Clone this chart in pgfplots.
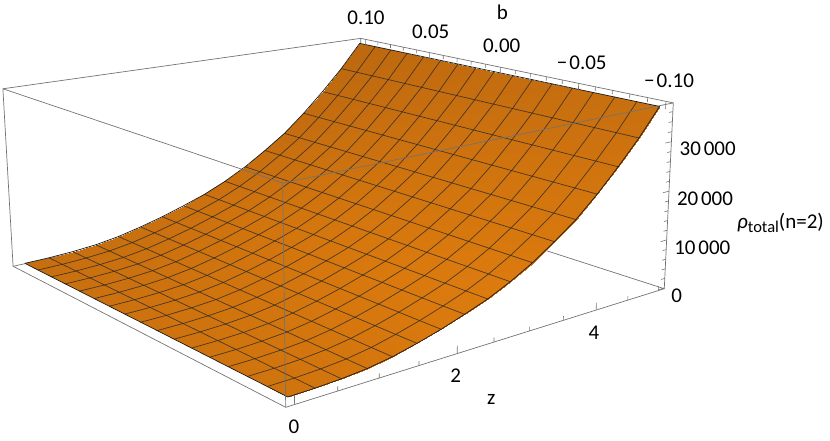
\documentclass[border=0pt]{standalone}
\usepackage{pgfplots}
\pgfplotsset{compat=1.18}
\usepackage{pgfplotstable}
\usepackage{fontspec}
\setmainfont{Carlito}

% surface: rho against z and b, m is the shade of the patch
\pgfplotstableread{
z b rho m
0 -0.10 560 .60
0 -0.05 560 .58
0 0.00 560 .52
0 0.05 560 .44
0 0.10 560 .32
0.3125 -0.10 628 .65
0.3125 -0.05 628 .62
0.3125 0.00 628 .55
0.3125 0.05 628 .46
0.3125 0.10 628 .33
0.625 -0.10 855 .70
0.625 -0.05 855 .66
0.625 0.00 855 .58
0.625 0.05 855 .48
0.625 0.10 855 .35
0.9375 -0.10 1272 .75
0.9375 -0.05 1272 .70
0.9375 0.00 1272 .62
0.9375 0.05 1272 .50
0.9375 0.10 1272 .36
1.25 -0.10 2030 .80
1.25 -0.05 2030 .75
1.25 0.00 2030 .66
1.25 0.05 2030 .54
1.25 0.10 2030 .38
1.5625 -0.10 3129 .85
1.5625 -0.05 3129 .80
1.5625 0.00 3129 .70
1.5625 0.05 3129 .57
1.5625 0.10 3129 .40
1.875 -0.10 4417 .90
1.875 -0.05 4417 .84
1.875 0.00 4417 .74
1.875 0.05 4417 .60
1.875 0.10 4417 .42
2.1875 -0.10 5933 .95
2.1875 -0.05 5933 .88
2.1875 0.00 5933 .78
2.1875 0.05 5933 .63
2.1875 0.10 5933 .44
2.5 -0.10 7582 1.0
2.5 -0.05 7582 .92
2.5 0.00 7582 .80
2.5 0.05 7582 .65
2.5 0.10 7582 .45
2.8125 -0.10 9666 .98
2.8125 -0.05 9666 .90
2.8125 0.00 9666 .78
2.8125 0.05 9666 .62
2.8125 0.10 9666 .42
3.125 -0.10 12148 .92
3.125 -0.05 12148 .85
3.125 0.00 12148 .73
3.125 0.05 12148 .58
3.125 0.10 12148 .38
3.4375 -0.10 15104 .85
3.4375 -0.05 15104 .78
3.4375 0.00 15104 .67
3.4375 0.05 15104 .52
3.4375 0.10 15104 .33
3.75 -0.10 18325 .78
3.75 -0.05 18325 .70
3.75 0.00 18325 .60
3.75 0.05 18325 .46
3.75 0.10 18325 .28
4.0625 -0.10 22304 .70
4.0625 -0.05 22304 .62
4.0625 0.00 22304 .52
4.0625 0.05 22304 .40
4.0625 0.10 22304 .22
4.375 -0.10 26738 .60
4.375 -0.05 26738 .52
4.375 0.00 26738 .44
4.375 0.05 26738 .32
4.375 0.10 26738 .15
4.6875 -0.10 31536 .50
4.6875 -0.05 31536 .42
4.6875 0.00 31536 .34
4.6875 0.05 31536 .24
4.6875 0.10 31536 .08
5 -0.10 36970 .40
5 -0.05 36970 .32
5 0.00 36970 .24
5 0.05 36970 .14
5 0.10 36970 .02
}\surfdata

\pgfplotstableread{
z rho
0 560
0.3125 628
0.625 855
0.9375 1272
1.25 2030
1.5625 3129
1.875 4417
2.1875 5933
2.5 7582
2.8125 9666
3.125 12148
3.4375 15104
3.75 18325
4.0625 22304
4.375 26738
4.6875 31536
5 36970
}\profile

\pgfplotstableread{
b c
-0.10 0
0.10 0
}\bends

\newcommand{\at}[3]{axis cs:{px(#1,#2,#3)},{py(#1,#2,#3)}}

\begin{document}
\begin{tikzpicture}[
  declare function={
    U(\z)=(\z+0.1)/5.2;
    V(\b)=(\b+0.104)/0.208;
    W(\r)=(\r+168)/37896;
    den(\z,\b,\r)=1+0.2227*U(\z)+0.283*V(\b)-0.036*W(\r);
    px(\z,\b,\r)=(285.7+526.5*U(\z)-268.9*V(\b)-13.2*W(\r))/den(\z,\b,\r);
    py(\z,\b,\r)=(407.3-54.3*U(\z)-65.7*V(\b)-230.9*W(\r))/den(\z,\b,\r);
  },
  boxline/.style={draw=black!55,line width=0.7pt},
  tickline/.style={draw=black!55,line width=0.6pt},
  meshline/.style={draw=black!85,draw opacity=0.78,line width=0.7pt},
  edgeline/.style={draw=black!90,line width=0.7pt},
  lab/.style={font=\fontsize{21}{21}\selectfont,text=black,inner sep=0pt,anchor=center},
]
\begin{axis}[
  scale only axis, width=830pt, height=441pt,
  xmin=0, xmax=830, ymin=0, ymax=441, y dir=reverse,
  hide axis, clip=false,
  point meta min=0, point meta max=1,
  colormap={copper}{rgb255(0)=(188,104,15); rgb255(1)=(220,123,14)},
]
\path (axis cs:0,0) (axis cs:830,441);

% box edges behind the surface
\draw[boxline] (\at{5.1}{-0.104}{-168}) -- (\at{5.1}{0.104}{-168}) -- (\at{-0.1}{0.104}{-168});
\draw[boxline] (\at{5.1}{0.104}{-168}) -- (\at{5.1}{0.104}{37728});

% surface
\addplot[surf, shader=interp, mesh/cols=5, mesh/rows=17, point meta=\thisrow{m}]
  table[x expr={px(\thisrow{z},\thisrow{b},\thisrow{rho})}, y expr={py(\thisrow{z},\thisrow{b},\thisrow{rho})}] {\surfdata};

% mesh lines: constant b, then constant z
\pgfplotsinvokeforeach{-0.0875,-0.075,-0.0625,-0.05,-0.0375,-0.025,-0.0125,0,0.0125,0.025,0.0375,0.05,0.0625,0.075,0.0875}{
  \addplot[meshline] table[x expr={px(\thisrow{z},#1,\thisrow{rho})}, y expr={py(\thisrow{z},#1,\thisrow{rho})}] {\profile};
}
\foreach \zz/\rr in {0.3125/628,0.625/855,0.9375/1272,1.25/2030,1.5625/3129,1.875/4417,2.1875/5933,2.5/7582,2.8125/9666,3.125/12148,3.4375/15104,3.75/18325,4.0625/22304,4.375/26738,4.6875/31536}{
  \edef\tmp{\noexpand\addplot[meshline] table[x expr={px(\zz,\noexpand\thisrow{b},\rr)}, y expr={py(\zz,\noexpand\thisrow{b},\rr)}] {\noexpand\bends};}
  \tmp
}

% outline of the surface
\addplot[edgeline] table[x expr={px(\thisrow{z},-0.1,\thisrow{rho})}, y expr={py(\thisrow{z},-0.1,\thisrow{rho})}] {\profile};
\addplot[edgeline] table[x expr={px(\thisrow{z},0.1,\thisrow{rho})}, y expr={py(\thisrow{z},0.1,\thisrow{rho})}] {\profile};
\addplot[edgeline] table[x expr={px(0,\thisrow{b},560)}, y expr={py(0,\thisrow{b},560)}] {\bends};
\addplot[edgeline] table[x expr={px(5,\thisrow{b},36970)}, y expr={py(5,\thisrow{b},36970)}] {\bends};

% box edges in front
\draw[boxline] (\at{-0.1}{0.104}{-168}) -- (\at{-0.1}{-0.104}{-168}) -- (\at{5.1}{-0.104}{-168}) -- (\at{5.1}{-0.104}{37728}) -- (\at{5.1}{0.104}{37728}) -- (\at{-0.1}{0.104}{37728}) -- cycle;
\draw[boxline] (\at{-0.1}{-0.104}{-168}) -- (\at{-0.1}{-0.104}{37728});
\draw[boxline] (\at{-0.1}{0.104}{37728}) -- (\at{-0.1}{-0.104}{37728}) -- (\at{5.1}{-0.104}{37728});

% ticks on z
\pgfplotsinvokeforeach{0,2,4}{\draw[tickline] (\at{#1}{-0.104}{-168}) -- (\at{#1}{-0.104}{1348});}
\pgfplotsinvokeforeach{0.5,1,1.5,2.5,3,3.5,4.5,5}{\draw[tickline] (\at{#1}{-0.104}{-168}) -- (\at{#1}{-0.104}{666});}
% ticks on b
\pgfplotsinvokeforeach{-0.1,-0.05,0,0.05,0.1}{\draw[tickline] (\at{5.1}{#1}{37728}) -- (\at{5.1}{#1}{36212});}
\pgfplotsinvokeforeach{-0.09,-0.08,-0.07,-0.06,-0.04,-0.03,-0.02,-0.01,0.01,0.02,0.03,0.04,0.06,0.07,0.08,0.09}{\draw[tickline] (\at{5.1}{#1}{37728}) -- (\at{5.1}{#1}{36894});}
% ticks on rho
\pgfplotsinvokeforeach{0,10000,20000,30000}{\draw[tickline] (\at{5.1}{-0.104}{#1}) -- (\at{5.0}{-0.104}{#1});}
\pgfplotsinvokeforeach{2000,4000,6000,8000,12000,14000,16000,18000,22000,24000,26000,28000,32000,34000,36000}{\draw[tickline] (\at{5.1}{-0.104}{#1}) -- (\at{5.04}{-0.104}{#1});}

% labels
\node[lab] at (axis cs:366,17.5) {0.10};
\node[lab] at (axis cs:430.7,31.7) {0.05};
\node[lab] at (axis cs:501.7,45.7) {0.00};
\node[lab] at (axis cs:581.7,62.3) {−\kern.1em 0.05};
\node[lab] at (axis cs:669,80.7) {−\kern.1em 0.10};
\node[lab] at (axis cs:502.3,12.7) {b};
\node[lab] at (axis cs:707.7,148.3) {30\kern.13em 000};
\node[lab] at (axis cs:705,198.3) {20\kern.13em 000};
\node[lab] at (axis cs:702.3,247.3) {10\kern.13em 000};
\node[lab] at (axis cs:676.7,295.7) {0};
\node[lab] at (axis cs:294,426.7) {0};
\node[lab] at (axis cs:455.7,375.7) {2};
\node[lab] at (axis cs:594,332.3) {4};
\node[lab] at (axis cs:491.3,399) {z};
\node[lab,anchor=west] at (axis cs:737,223) {\textit{ρ}\raisebox{-0.2em}{\fontsize{16.5}{16.5}\selectfont total}(n=2)};
\end{axis}
\end{tikzpicture}
\end{document}
